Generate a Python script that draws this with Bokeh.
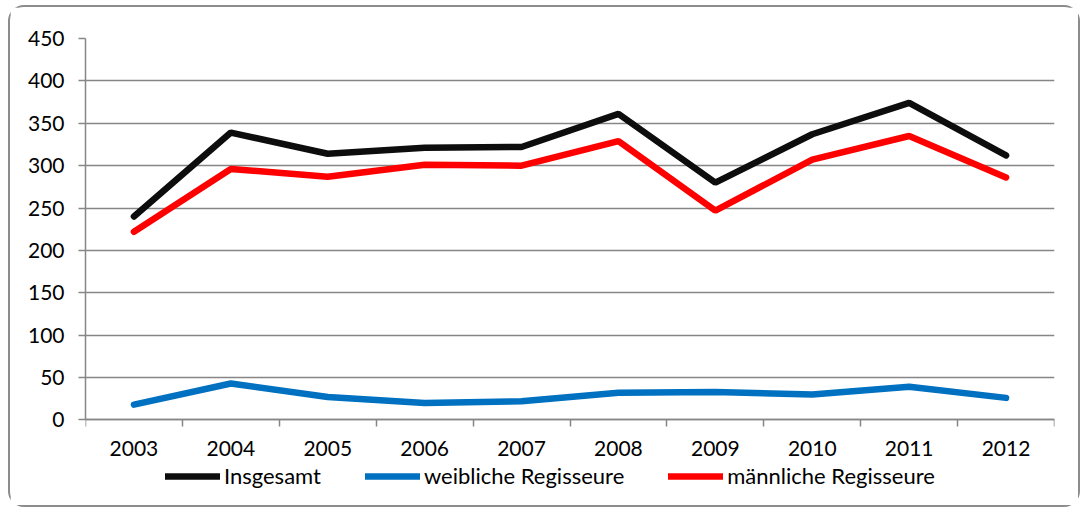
from bokeh.plotting import figure
from bokeh.models import FixedTicker, Legend, LegendItem, Range1d
from bokeh.embed import file_html
from bokeh.resources import INLINE

years = ["2003", "2004", "2005", "2006", "2007", "2008", "2009", "2010", "2011", "2012"]
insgesamt = [240, 339, 314, 321, 322, 361, 280, 337, 374, 312]
weiblich = [18, 43, 27, 20, 22, 32, 33, 30, 39, 26]
maennlich = [222, 296, 287, 301, 300, 329, 247, 307, 335, 286]
y_ticks = [0, 50, 100, 150, 200, 250, 300, 350, 400, 450]

FONT = "Lato"
GRAY = "#868686"

# layout (page pixels)
FRAME_TOP, ZERO_Y, FRAME_BOTTOM = 38, 419, 503.5
y_max = y_ticks[-1]
y_min = -y_max * (FRAME_BOTTOM - ZERO_Y) / (ZERO_Y - FRAME_TOP)

x = [i + 0.5 for i in range(len(years))]
bounds = list(range(len(years) + 1))

p = figure(width=1072, height=502, output_backend="svg", toolbar_location=None,
           x_range=Range1d(0, len(years)), y_range=Range1d(y_min, y_max),
           min_border_left=75, min_border_right=28, min_border_top=31, min_border_bottom=5)
p.styles = {"border": "2px solid #8c8c8c", "border-radius": "16px",
            "box-sizing": "border-box", "margin-left": "8px", "margin-top": "5px"}
p.outline_line_color = None
p.background_fill_color = "white"
p.border_fill_color = "white"

r1 = p.line(x, insgesamt, line_color="#0d0d0d", line_width=6.5, line_cap="round")
r2 = p.line(x, weiblich, line_color="#0070C0", line_width=6.5, line_cap="round")
r3 = p.line(x, maennlich, line_color="#FF0000", line_width=6.5, line_cap="round")

p.xgrid.visible = False
p.ygrid.ticker = FixedTicker(ticks=y_ticks)
p.ygrid.grid_line_color = GRAY
p.ygrid.grid_line_width = 1.5

xa = p.xaxis[0]
xa.fixed_location = 0
xa.ticker = FixedTicker(ticks=x, minor_ticks=bounds)
xa.major_label_overrides = {xi: yr for xi, yr in zip(x, years)}
xa.major_tick_in = 0
xa.major_tick_out = 0
xa.minor_tick_in = 0
xa.minor_tick_out = 7
xa.minor_tick_line_color = GRAY
xa.minor_tick_line_width = 1.5
xa.axis_line_color = GRAY
xa.axis_line_width = 1.5
xa.major_label_standoff = 14
xa.major_label_text_font = FONT
xa.major_label_text_font_size = "21px"
xa.major_label_text_color = "black"

ya = p.yaxis[0]
ya.bounds = (0, y_max)
ya.ticker = FixedTicker(ticks=y_ticks)
ya.major_tick_in = 0
ya.major_tick_out = 7
ya.minor_tick_line_color = None
ya.major_tick_line_color = GRAY
ya.major_tick_line_width = 1.5
ya.axis_line_color = GRAY
ya.axis_line_width = 1.5
ya.major_label_standoff = 14
ya.major_label_text_font = FONT
ya.major_label_text_font_size = "21px"
ya.major_label_text_color = "black"

legend = Legend(items=[LegendItem(label="Insgesamt", renderers=[r1]),
                       LegendItem(label="weibliche Regisseure", renderers=[r2]),
                       LegendItem(label="männliche Regisseure", renderers=[r3])],
                orientation="horizontal", location=(80, 15),
                border_line_color=None, background_fill_alpha=0,
                padding=0, margin=0, spacing=44, glyph_width=55, glyph_height=20,
                label_height=20, label_standoff=4,
                label_text_font=FONT, label_text_font_size="22px", label_text_color="black")
p.add_layout(legend, "center")

open("out.html", "w").write(file_html(p, INLINE))
